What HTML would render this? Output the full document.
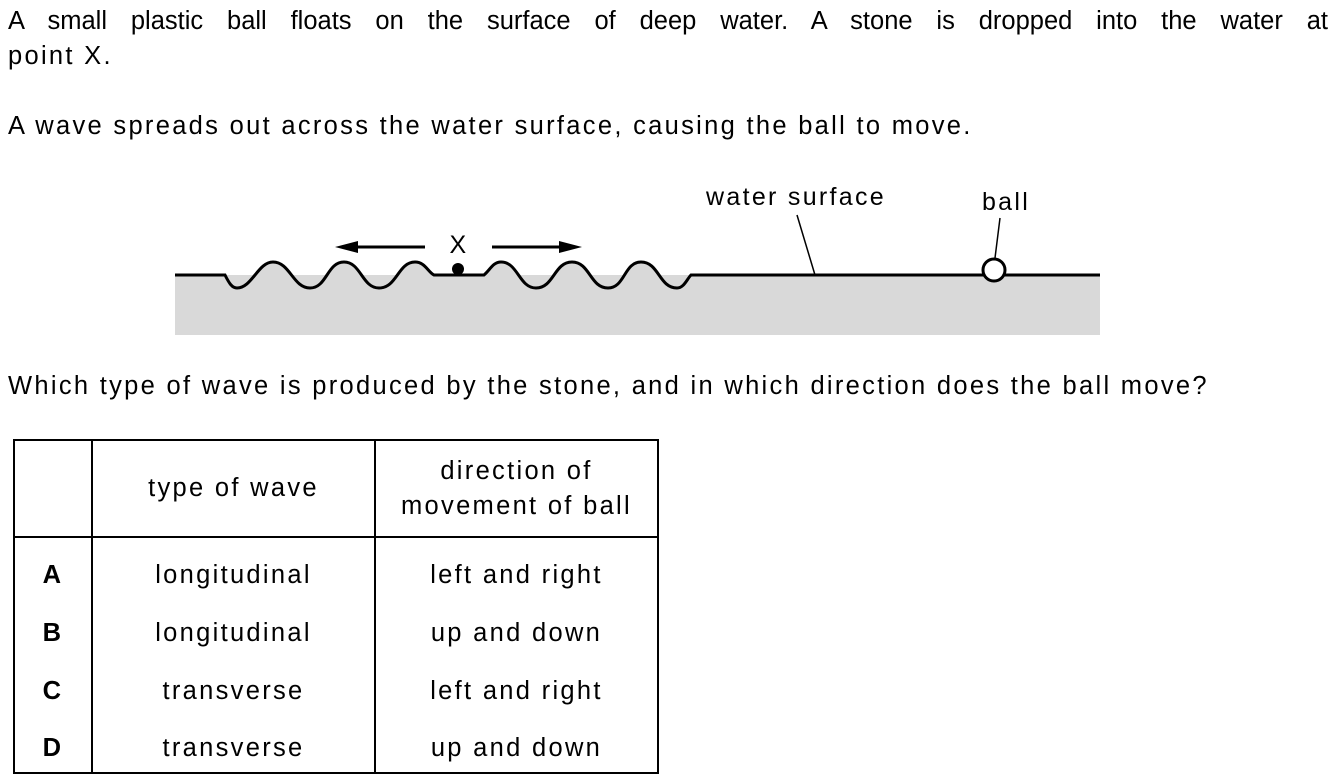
<!DOCTYPE html>
<html><head><meta charset="utf-8"><style>
body{margin:0;width:1338px;height:781px;background:#fff;font-family:"Liberation Sans",Arial,sans-serif;color:#000;position:relative;overflow:hidden;letter-spacing:2.3px}
.t{position:absolute;font-size:25.5px;white-space:nowrap;line-height:1}
table{position:absolute;left:13px;top:439px;border-collapse:collapse;font-size:25.5px}
td{border-left:2px solid #000;border-right:2px solid #000;text-align:center;padding:0}
</style></head><body>
<div class="t" style="left:8px;top:9px;width:1320px;text-align:justify;text-align-last:justify;letter-spacing:0">A small plastic ball floats on the surface of deep water. A stone is dropped into the water at</div>
<div class="t" style="left:8px;top:44px">point X.</div>
<div class="t" style="left:8px;top:114px">A wave spreads out across the water surface, causing the ball to move.</div>
<div class="t" style="left:8px;top:374px">Which type of wave is produced by the stone, and in which direction does the ball move?</div>
<svg style="position:absolute;left:0;top:0;letter-spacing:2.3px" width="1338" height="781">
<rect x="175" y="275" width="925" height="60" fill="#d9d9d9"/>
<path d="M175 275 L225 275 C229 283 232 288 237 288 C252 288 258 262 273 262 C290 262 293 288 310 288 C327 288 327 262 344 262 C361 262 362 288 379 288 C397 288 398 262 415 262 C425 262 428 272 434 275 L484 275 C490 270 493 262 501 262 C518 262 519 288 536 288 C554 288 554 262 572 262 C590 262 590 288 608 288 C625 288 624 262 641 262 C659 262 659 288 677 288 C684 288 687 279 691 275 L1100 275" fill="#d9d9d9" stroke="#000" stroke-width="3"/>
<circle cx="458" cy="269" r="6" fill="#000"/>
<line x1="355" y1="247" x2="425" y2="247" stroke="#000" stroke-width="3"/>
<polygon points="335,247 358,241 358,253" fill="#000"/>
<line x1="492" y1="247" x2="562" y2="247" stroke="#000" stroke-width="3"/>
<polygon points="582,247 559,241 559,253" fill="#000"/>
<text x="459" y="253" font-size="25" text-anchor="middle" font-family="Liberation Sans,sans-serif">X</text>
<text x="796" y="205" font-size="25" text-anchor="middle" font-family="Liberation Sans,sans-serif">water surface</text>
<text x="1006" y="210" font-size="25" text-anchor="middle" font-family="Liberation Sans,sans-serif">ball</text>
<line x1="797" y1="215" x2="815" y2="275" stroke="#000" stroke-width="1.5"/>
<line x1="1000" y1="218" x2="995" y2="258" stroke="#000" stroke-width="1.5"/>
<circle cx="994" cy="270" r="11" fill="#fff" stroke="#000" stroke-width="3"/>
</svg>
<table>
<tr style="height:97px;border:2px solid #000"><td style="width:76px"></td><td style="width:281px">type of wave</td><td style="width:281px;line-height:35px">direction of<br>movement of ball</td></tr>
<tr style="height:67px;border-top:2px solid #000"><td style="font-weight:bold;padding-top:8px">A</td><td style="padding-top:8px">longitudinal</td><td style="padding-top:8px">left and right</td></tr>
<tr style="height:58px"><td style="font-weight:bold">B</td><td>longitudinal</td><td>up and down</td></tr>
<tr style="height:58px"><td style="font-weight:bold">C</td><td>transverse</td><td>left and right</td></tr>
<tr style="height:53px;border-bottom:2px solid #000"><td style="font-weight:bold;padding-top:4px">D</td><td style="padding-top:4px">transverse</td><td style="padding-top:4px">up and down</td></tr>
</table>
</body></html>
